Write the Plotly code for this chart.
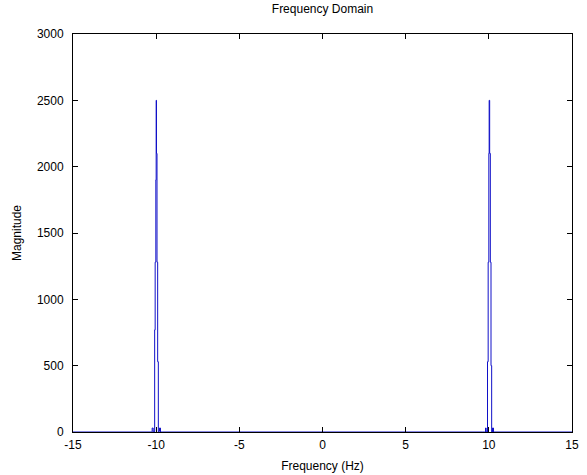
import plotly.graph_objects as go

# Frequency (Hz) and magnitude values
freq = [-15.0, -10.30, -10.24, -10.18, -10.13, -10.09, -10.06, -10.02, -10.00,
        -9.98, -9.95, -9.91, -9.87, -9.84, -9.80, -9.74, -9.60,
        9.60, 9.74, 9.80, 9.84, 9.88, 9.92, 9.96, 10.00,
        10.02, 10.05, 10.09, 10.13, 10.17, 10.22, 10.28, 15.0]
magnitude = [0, 0, 30, 5, 0, 770, 1280, 1900, 2500,
             2100, 1280, 530, 0, 5, 30, 0, 0,
             0, 0, 30, 5, 0, 530, 1280, 2100,
             2500, 2100, 1280, 500, 0, 30, 0, 0]

x_ticks = [-15, -10, -5, 0, 5, 10, 15]
y_ticks = [0, 500, 1000, 1500, 2000, 2500, 3000]

FONT = "Liberation Sans, Arial"

fig = go.Figure()
fig.add_trace(go.Scatter(x=freq, y=magnitude, mode="lines",
                         line=dict(color="#1010c8", width=1, shape="hv")))

axis_common = dict(showline=True, linecolor="black", linewidth=1, mirror="ticks",
                   ticks="inside", ticklen=5, tickcolor="black", tickwidth=1,
                   showgrid=False, zeroline=False, automargin=False,
                   tickfont=dict(family=FONT, size=12, color="black"))

fig.update_layout(
    width=587, height=475,
    margin=dict(l=73, r=15, t=34, b=43, autoexpand=False),
    paper_bgcolor="white", plot_bgcolor="white",
    showlegend=False,
    title=dict(text="Frequency Domain", x=0.5, xanchor="center", xref="paper",
               y=0.99, yanchor="top",
               font=dict(family=FONT, size=12, color="black")),
    xaxis=dict(range=[-15, 15], tickvals=x_ticks, ticktext=[str(v) for v in x_ticks],
               ticklabelstandoff=2,
               title=dict(text="Frequency (Hz)", standoff=10,
                          font=dict(family=FONT, size=12, color="black")),
               **axis_common),
    yaxis=dict(range=[0, 3000], tickvals=y_ticks, ticktext=[str(v) for v in y_ticks],
               ticklabelstandoff=6,
               title=dict(text="Magnitude", standoff=12,
                          font=dict(family=FONT, size=12, color="black")),
               **axis_common),
)

fig.write_html("out.html")
